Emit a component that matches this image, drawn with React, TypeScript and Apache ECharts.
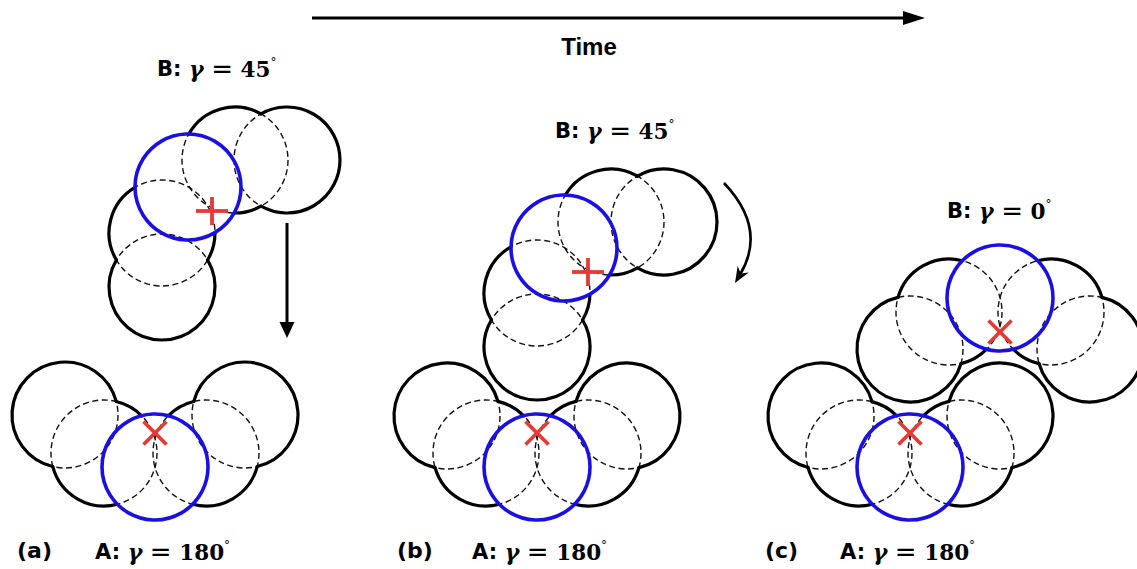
import React, { useEffect, useRef } from "react";
import * as echarts from "echarts";

const WIDTH = 1137;
const HEIGHT = 569;
const RADIUS = 53;

// ---- circle centres (pixel-like data units) ----
// panel (a)
const aBodyA = [[65, 415], [104, 453], [206, 453], [245, 415]];
const aBlueA = [155, 467];
const aBodyB = [[162, 287], [162, 233], [235, 160], [287, 160]];
const aBlueB = [188, 187];
// panel (b)
const bBodyA = [[447, 416], [486, 453], [588, 453], [627, 416]];
const bBlueA = [537, 467];
const bBodyB = [[537, 347], [537, 293], [611, 222], [664, 222]];
const bBlueB = [564, 248];
// panel (c)
const cBodyA = [[821, 416], [859, 453], [961, 453], [1000, 416]];
const cBlueA = [910, 467];
const cBodyB = [[910, 349], [949, 312], [1051, 312], [1090, 349]];
const cBlueB = [1000, 298];

// ---- markers ----
const plusMarks = [[212, 211], [588, 272]];
const crossMarks = [[155, 433], [537, 433], [910, 433], [1000, 332]];

// ---- arrows: [x1, y1, x2(tip), y2(tip)] ----
const timeArrow = [[312, 18, 925, 18]];
const downArrow = [[287, 223, 287, 338]];
const turnArrow = [[724, 183, 735, 283]];

// ---- texts ----
const panelTags = ["(a)", "(b)", "(c)"];
const bodyALabels = ["180", "180", "180"];
const bodyBLabels = ["45", "45", "0"];
const timeLabel = "Time";

const groups = [
  { body: aBodyA, blue: aBlueA },
  { body: aBodyB, blue: aBlueB },
  { body: bBodyA, blue: bBlueA },
  { body: bBodyB, blue: bBlueB },
  { body: cBodyA, blue: cBlueA },
  { body: cBodyB, blue: cBlueB },
];

const BLUE = "#1a10e6";
const RED = "#e63a35";

function bodyRender(params: any, api: any) {
  const x = api.value(0);
  const y = api.value(1);
  const gi = api.value(2);
  const c = api.coord([x, y]);
  const r = Math.abs(api.size([RADIUS, 0])[0]);
  const g = groups[gi];
  const others = [...g.body, g.blue]
    .filter((p) => !(p[0] === x && p[1] === y))
    .map((p) => api.coord(p));
  const N = 1440;
  const step = (Math.PI * 2) / N;
  const covered: boolean[] = [];
  for (let i = 0; i < N; i++) {
    const a = i * step;
    const px = c[0] + r * Math.cos(a);
    const py = c[1] + r * Math.sin(a);
    covered.push(others.some((o: number[]) => Math.hypot(px - o[0], py - o[1]) < r));
  }
  const arcs: number[][] = [];
  const first = covered.indexOf(true);
  if (first < 0) {
    arcs.push([0, Math.PI * 2]);
  } else {
    let runStart = -1;
    for (let k = 1; k <= N; k++) {
      const idx = first + k;
      const cov = covered[idx % N];
      if (!cov) {
        if (runStart < 0) runStart = idx;
      } else if (runStart >= 0) {
        arcs.push([(runStart - 0.5) * step, (idx - 0.5) * step]);
        runStart = -1;
      }
    }
  }
  const children: any[] = [
    {
      type: "circle",
      shape: { cx: c[0], cy: c[1], r },
      style: { fill: "none", stroke: "#111", lineWidth: 1.4, lineDash: [6, 3.5] },
    },
  ];
  arcs.forEach(([s, e]) => {
    children.push({
      type: "arc",
      shape: { cx: c[0], cy: c[1], r, startAngle: s, endAngle: e, clockwise: true },
      style: { fill: "none", stroke: "#000", lineWidth: 3.2, lineCap: "round" },
    });
  });
  return { type: "group", children };
}

function blueRender(params: any, api: any) {
  const c = api.coord([api.value(0), api.value(1)]);
  const r = Math.abs(api.size([RADIUS, 0])[0]);
  return {
    type: "circle",
    shape: { cx: c[0], cy: c[1], r },
    style: { fill: "none", stroke: BLUE, lineWidth: 3.6 },
  };
}

function markRender(kind: "plus" | "cross") {
  return (params: any, api: any) => {
    const c = api.coord([api.value(0), api.value(1)]);
    const style = { stroke: RED, lineWidth: 3.8, lineCap: "butt" };
    if (kind === "plus") {
      return {
        type: "group",
        children: [
          { type: "line", shape: { x1: c[0] - 16, y1: c[1], x2: c[0] + 16, y2: c[1] }, style },
          { type: "line", shape: { x1: c[0], y1: c[1] - 14, x2: c[0], y2: c[1] + 14 }, style },
        ],
      };
    }
    const d = 11.5;
    return {
      type: "group",
      children: [
        { type: "line", shape: { x1: c[0] - d, y1: c[1] - d, x2: c[0] + d, y2: c[1] + d }, style },
        { type: "line", shape: { x1: c[0] - d, y1: c[1] + d, x2: c[0] + d, y2: c[1] - d }, style },
      ],
    };
  };
}

function arrowRender(opt: { width: number; headL: number; headW: number; curve: number; notch: boolean }) {
  return (params: any, api: any) => {
    const p1 = api.coord([api.value(0), api.value(1)]);
    const p2 = api.coord([api.value(2), api.value(3)]);
    let tx: number, ty: number;
    const children: any[] = [];
    const lineStyle = { stroke: "#000", lineWidth: opt.width, fill: "none" };
    if (opt.curve) {
      const mx = (p1[0] + p2[0]) / 2;
      const my = (p1[1] + p2[1]) / 2;
      const cpx = mx - (p1[1] - p2[1]) * opt.curve;
      const cpy = my - (p2[0] - p1[0]) * opt.curve;
      tx = p2[0] - cpx;
      ty = p2[1] - cpy;
      const len = Math.hypot(tx, ty);
      tx /= len;
      ty /= len;
      const ex = p2[0] - tx * opt.headL * 0.6;
      const ey = p2[1] - ty * opt.headL * 0.6;
      children.push({
        type: "bezierCurve",
        shape: { x1: p1[0], y1: p1[1], x2: ex, y2: ey, cpx1: cpx, cpy1: cpy },
        style: lineStyle,
      });
    } else {
      tx = p2[0] - p1[0];
      ty = p2[1] - p1[1];
      const len = Math.hypot(tx, ty);
      tx /= len;
      ty /= len;
      children.push({
        type: "line",
        shape: { x1: p1[0], y1: p1[1], x2: p2[0] - tx * opt.headL * 0.6, y2: p2[1] - ty * opt.headL * 0.6 },
        style: lineStyle,
      });
    }
    const nx = -ty;
    const ny = tx;
    const bx = p2[0] - tx * opt.headL;
    const by = p2[1] - ty * opt.headL;
    const pts: number[][] = [
      [p2[0], p2[1]],
      [bx + nx * opt.headW, by + ny * opt.headW],
    ];
    if (opt.notch) pts.push([p2[0] - tx * opt.headL * 0.7, p2[1] - ty * opt.headL * 0.7]);
    pts.push([bx - nx * opt.headW, by - ny * opt.headW]);
    children.push({ type: "polygon", shape: { points: pts }, style: { fill: "#000", stroke: "none" } });
    return { type: "group", children };
  };
}

const rich = {
  s: { fontFamily: "DejaVu Sans", fontWeight: "bold", fontSize: 21, fill: "#000" },
  g: { fontFamily: "DejaVu Serif", fontStyle: "italic", fontWeight: "bold", fontSize: 22, fill: "#000" },
  e: { fontFamily: "DejaVu Sans", fontSize: 26, fill: "#000" },
  m: { fontFamily: "DejaVu Serif", fontWeight: "bold", fontSize: 21.5, fill: "#000" },
  d: { fontFamily: "DejaVu Sans", fontSize: 12, fill: "#000", verticalAlign: "top", lineHeight: 12 },
};

function mathLabel(prefix: string, value: string, x: number, y: number) {
  return {
    type: "text",
    x,
    y,
    style: {
      text: `{s|${prefix}:} {g|γ} {e|=} {m|${value}}{d|°}`,
      rich,
      fontFamily: "DejaVu Sans",
      fontSize: 24,
      align: "left",
      verticalAlign: "middle",
      fill: "#000",
    },
  };
}

function tagLabel(t: string, x: number, y: number) {
  return {
    type: "text",
    x,
    y,
    style: {
      text: t,
      fontFamily: "DejaVu Sans",
      fontSize: 22,
      fontWeight: "bold",
      align: "left",
      verticalAlign: "middle",
      fill: "#000",
    },
  };
}

export default function App() {
  const ref = useRef<HTMLDivElement>(null);
  useEffect(() => {
    if (!ref.current) return;
    const chart = echarts.init(ref.current, undefined, { renderer: "svg" });
    const bodyData: number[][] = [];
    groups.forEach((g, gi) => g.body.forEach((p) => bodyData.push([p[0], p[1], gi])));
    const blueData = groups.map((g) => g.blue);
    const option: any = {
      animation: false,
      backgroundColor: "#ffffff",
      grid: { left: 0, right: 0, top: 0, bottom: 0, containLabel: false },
      xAxis: { type: "value", min: 0, max: WIDTH, show: false },
      yAxis: { type: "value", min: 0, max: HEIGHT, inverse: true, show: false },
      tooltip: { show: false },
      series: [
        { type: "custom", name: "body", data: bodyData, renderItem: bodyRender, z: 1, silent: true },
        { type: "custom", name: "highlight", data: blueData, renderItem: blueRender, z: 2, silent: true },
        { type: "custom", name: "plus", data: plusMarks, renderItem: markRender("plus"), z: 3, silent: true },
        { type: "custom", name: "cross", data: crossMarks, renderItem: markRender("cross"), z: 3, silent: true },
        {
          type: "custom",
          name: "time",
          data: timeArrow,
          renderItem: arrowRender({ width: 3.2, headL: 22, headW: 7, curve: 0, notch: false }),
          z: 3,
          silent: true,
        },
        {
          type: "custom",
          name: "down",
          data: downArrow,
          renderItem: arrowRender({ width: 3, headL: 16, headW: 7.5, curve: 0, notch: false }),
          z: 3,
          silent: true,
        },
        {
          type: "custom",
          name: "turn",
          data: turnArrow,
          renderItem: arrowRender({ width: 2.6, headL: 16, headW: 6.5, curve: 0.38, notch: true }),
          z: 3,
          silent: true,
        },
      ],
      graphic: [
        {
          type: "text",
          x: 589,
          y: 46,
          style: {
            text: timeLabel,
            fontFamily: "Liberation Sans",
            fontSize: 24,
            fontWeight: "bold",
            align: "center",
            verticalAlign: "middle",
            fill: "#000",
          },
        },
        mathLabel("B", bodyBLabels[0], 157, 69),
        mathLabel("B", bodyBLabels[1], 555, 131),
        mathLabel("B", bodyBLabels[2], 947, 211),
        tagLabel(panelTags[0], 17, 550),
        tagLabel(panelTags[1], 397, 550),
        tagLabel(panelTags[2], 765, 550),
        mathLabel("A", bodyALabels[0], 95, 552),
        mathLabel("A", bodyALabels[1], 472, 552),
        mathLabel("A", bodyALabels[2], 840, 552),
      ],
    };
    chart.setOption(option);
    return () => chart.dispose();
  }, []);
  return (
    <div
      ref={ref}
      style={{ position: "absolute", left: 0, top: 0, width: WIDTH, height: HEIGHT, background: "#fff" }}
    />
  );
}
